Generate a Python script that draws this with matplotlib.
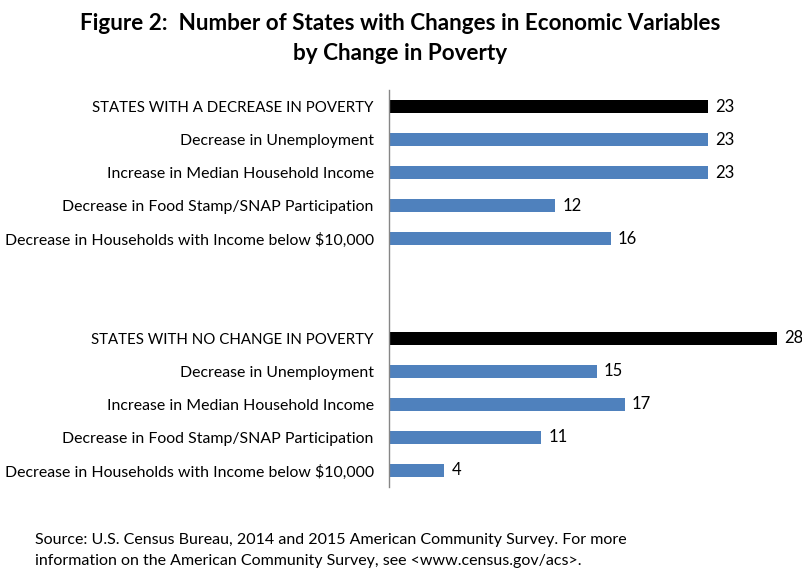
import matplotlib
matplotlib.use("Agg")
import matplotlib.pyplot as plt

categories = [
    "STATES WITH A DECREASE IN POVERTY",
    "Decrease in Unemployment",
    "Increase in Median Household Income",
    "Decrease in Food Stamp/SNAP Participation",
    "Decrease in Households with Income below $10,000",
    "",
    "",
    "STATES WITH NO CHANGE IN POVERTY",
    "Decrease in Unemployment",
    "Increase in Median Household Income",
    "Decrease in Food Stamp/SNAP Participation",
    "Decrease in Households with Income below $10,000",
]
values = [23, 23, 23, 12, 16, None, None, 28, 15, 17, 11, 4]
is_header = [True, False, False, False, False, False, False, True, False, False, False, False]

plt.rcParams['font.family'] = ['Lato', 'DejaVu Sans']

W, H = 803, 570
fig = plt.figure(figsize=(W / 100, H / 100), dpi=100)
ax = fig.add_axes([389 / W, (570 - 487) / H, 402 / W, (487 - 90) / H])

n = len(categories)
ys = list(range(n))
for y, v, hd in zip(ys, values, is_header):
    if v is None:
        continue
    ax.barh(y, v, height=0.4, color="black" if hd else "#4F81BD")
    ax.text(v + 0.5, y, str(v), va="center", ha="left", fontsize=12, color="black")

ax.set_ylim(n - 0.5, -0.5)
ax.set_xlim(0, 29)
ax.set_yticks(ys)
ax.set_yticklabels(categories)
for lab, hd in zip(ax.get_yticklabels(), is_header):
    lab.set_fontsize(10.8 if hd else 11.4)
ax.tick_params(axis="y", length=0, pad=11)
ax.set_xticks([])
for s in ["top", "right", "bottom"]:
    ax.spines[s].set_visible(False)
ax.spines["left"].set_color("#868686")
ax.spines["left"].set_linewidth(1)

fig.text(400 / W, 1 - 24 / H, "Figure 2:  Number of States with Changes in Economic Variables",
         ha="center", va="center", fontsize=16.2, fontweight="bold")
fig.text(400 / W, 1 - 53 / H, "by Change in Poverty",
         ha="center", va="center", fontsize=16.2, fontweight="bold")
fig.text(35 / W, 1 - 540 / H, "Source: U.S. Census Bureau, 2014 and 2015 American Community Survey. For more",
         ha="left", va="center", fontsize=11.5)
fig.text(35 / W, 1 - 561 / H, "information on the American Community Survey, see <www.census.gov/acs>.",
         ha="left", va="center", fontsize=11.5)

fig.savefig("out.png", dpi=100)
